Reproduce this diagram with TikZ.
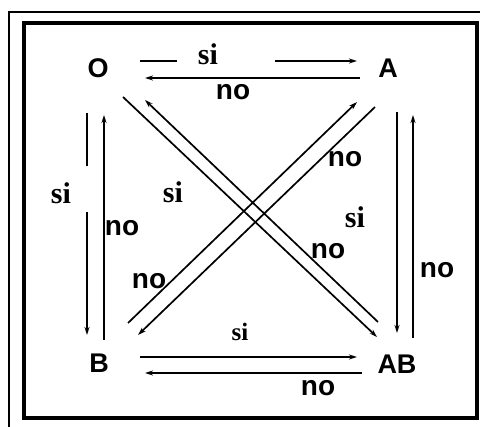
\documentclass[tikz,border=0pt]{standalone}
\usepackage{fontspec}
\setmainfont{Liberation Serif}
\setsansfont{Liberation Sans}
\usetikzlibrary{arrows.meta}

\begin{document}
\begin{tikzpicture}[x=1pt,y=-1pt,
		grp/.style={font=\fontsize{27}{27}\selectfont\sffamily\bfseries, inner sep=0pt},
		nolbl/.style={font=\fontsize{28}{28}\selectfont\sffamily\bfseries, inner sep=0pt},
		silbl/.style={font=\fontsize{30}{30}\selectfont\rmfamily\bfseries, inner sep=0pt},
		ln/.style={line width=1.7pt},
		arr/.style={line width=1.7pt, -{Stealth[length=8pt,width=5pt]}}]
		\useasboundingbox (0,0) rectangle (480,427);
		% frames
		\draw[line width=1.2pt] (9,427) -- (9,12) -- (480,12);
		\draw[line width=4.5pt] (24,23) rectangle (477,418);
		% blood groups
		\node[grp] (O) at (98,68) {O};
		\node[grp] (A) at (388,68) {A};
		\node[grp] (B) at (99,363) {B};
		\node[grp] (AB) at (397,364) {AB};
		% O - A
		\draw[ln] ([shift={(42,-7)}]O.center) -- ([shift={(79,-7)}]O.center);
		\draw[arr] ([shift={(-113,-7)}]A.center) -- ([shift={(-31,-7)}]A.center);
		\draw[arr] ([shift={(-28,10)}]A.center) -- ([shift={(47,10)}]O.center);
		\node[silbl] (siOA) at (208,54) {si};
		\node[nolbl] (noAO) at (233,92) {no};
		% O - B
		\draw[ln] ([shift={(-11,45)}]O.center) -- ([shift={(-11,98)}]O.center);
		\draw[arr] ([shift={(-12,-151)}]B.center) -- ([shift={(-12,-28)}]B.center);
		\draw[arr] ([shift={(5,-23)}]B.center) -- ([shift={(6,47)}]O.center);
		\node[silbl] (siOB) at (61,193) {si};
		\node[nolbl] (noBO) at (122,228) {no};
		% A - AB
		\draw[arr] ([shift={(9,44)}]A.center) -- ([shift={(0,-31)}]AB.center);
		\draw[arr] ([shift={(16,-26)}]AB.center) -- ([shift={(25,47)}]A.center);
		\node[nolbl] (noABA) at (437,270) {no};
		% B - AB
		\draw[arr] ([shift={(41,-6)}]B.center) -- ([shift={(-40,-7)}]AB.center);
		\draw[arr] ([shift={(-35,9)}]AB.center) -- ([shift={(46,10)}]B.center);
		\node[silbl, font=\fontsize{25}{25}\selectfont\rmfamily\bfseries] (siBAB) at (240,332) {si};
		\node[nolbl] (noABB) at (318,388) {no};
		% diagonals
		\draw[arr] ([shift={(25,29)}]O.center) -- ([shift={(-20,-27)}]AB.center);
		\draw[arr] ([shift={(-19,-42)}]AB.center) -- ([shift={(47,32)}]O.center);
		\draw[arr] ([shift={(-13,39)}]A.center) -- ([shift={(39,-28)}]B.center);
		\draw[arr] ([shift={(29,-40)}]B.center) -- ([shift={(-31,34)}]A.center);
		\node[silbl] (siOAB) at (173,192) {si};
		\node[nolbl] (noABO) at (328,251) {no};
		\node[nolbl] (noAB) at (345,159) {no};
		\node[silbl] (siBA) at (355,217) {si};
		\node[nolbl] (noBA) at (149,281) {no};
	\end{tikzpicture}
\end{document}
